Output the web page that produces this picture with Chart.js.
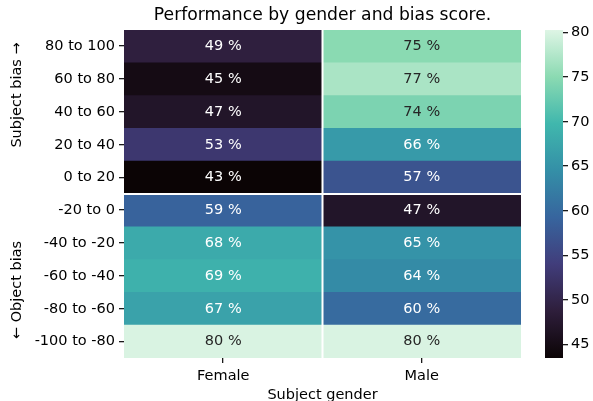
<!DOCTYPE html>
<html>
<head>
<meta charset="utf-8">
<script src="https://cdn.jsdelivr.net/npm/chart.js@4/dist/chart.umd.min.js"></script>
<style>
  html, body { margin: 0; padding: 0; background: #fff; }
  #wrap { position: relative; width: 593px; height: 401px; overflow: hidden; }
  #heat { position: absolute; left: 0; top: 0; }
  #cbar { position: absolute; left: 530px; top: 0; }
</style>
</head>
<body>
<div id="wrap">
  <canvas id="heat" width="540" height="404"></canvas>
  <canvas id="cbar" width="63" height="404"></canvas>
</div>
<script>
// data
const rowLabels = ['80 to 100', '60 to 80', '40 to 60', '20 to 40', '0 to 20',
                   '-20 to 0', '-40 to -20', '-60 to -40', '-80 to -60', '-100 to -80'];
const genders = ['Female', 'Male'];
const femaleScores = [49, 45, 47, 53, 43, 59, 68, 69, 67, 80];
const maleScores = [75, 77, 74, 66, 57, 47, 65, 64, 60, 80];
const colorMin = 43.5;
const colorMax = 80.3;
const colorTicks = [45, 50, 55, 60, 65, 70, 75, 80];

const FONT = 'DejaVu Sans';
const FS = 14.5;
const TICK_LEN = 5;
const TICK_COLOR = '#1a1a1a';
Chart.defaults.font.family = FONT;
Chart.defaults.color = '#111';

// mako colormap (approx)
const MAKO = [
    [0.000, [11, 4, 5]],
    [0.143, [46, 30, 59]],
    [0.286, [65, 61, 123]],
    [0.429, [55, 101, 158]],
    [0.571, [52, 143, 167]],
    [0.714, [64, 183, 173]],
    [0.857, [139, 218, 178]],
    [1.000, [222, 245, 229]]
];
function mako(t) {
    t = Math.max(0, Math.min(1, t));
    for (let i = 1; i < MAKO.length; i++) {
        if (t <= MAKO[i][0]) {
            const [t0, c0] = MAKO[i - 1], [t1, c1] = MAKO[i];
            const k = (t - t0) / (t1 - t0);
            return c0.map((c, j) => Math.round(c + (c1[j] - c) * k));
        }
    }
    return MAKO[MAKO.length - 1][1];
}
const rgb = c => `rgb(${c[0]},${c[1]},${c[2]})`;
const cellColor = v => mako((v - colorMin) / (colorMax - colorMin));
function luminance(c) {
    const l = c.map(x => { x /= 255; return x <= 0.03928 ? x / 12.92 : Math.pow((x + 0.055) / 1.055, 2.4); });
    return 0.2126 * l[0] + 0.7152 * l[1] + 0.0722 * l[2];
}

const series = [femaleScores, maleScores];

// invisible grid, keeps room for tick marks; marks drawn by plugin
const hiddenGrid = { drawOnChartArea: false, drawTicks: true, tickLength: TICK_LEN, color: 'rgba(0,0,0,0)' };

// annotations + separator lines
const heatExtras = {
    id: 'heatExtras',
    afterDatasetsDraw(chart) {
        const { ctx, chartArea: ca, scales: { x, y } } = chart;
        ctx.save();
        ctx.font = `${FS}px ${FONT}`;
        ctx.textAlign = 'center';
        ctx.textBaseline = 'middle';
        series.forEach((vals, di) => {
            const meta = chart.getDatasetMeta(di);
            meta.data.forEach((bar, i) => {
                const c = cellColor(vals[i]);
                ctx.fillStyle = luminance(c) > 0.408 ? '#262626' : '#ffffff';
                const p = bar.getCenterPoint();
                ctx.fillText(vals[i] + ' %', p.x, p.y);
            });
        });
        // white separators
        ctx.strokeStyle = '#ffffff';
        ctx.lineWidth = 2;
        const xm = x.getPixelForValue(1);
        const ym = (y.getPixelForValue(4) + y.getPixelForValue(5)) / 2;
        ctx.beginPath();
        ctx.moveTo(xm, ca.top); ctx.lineTo(xm, ca.bottom);
        ctx.moveTo(ca.left, ym); ctx.lineTo(ca.right, ym);
        ctx.stroke();
        ctx.restore();
    },
    afterDraw(chart) {
        const { ctx, chartArea: ca, scales: { x, y } } = chart;
        ctx.save();
        // tick marks
        ctx.fillStyle = TICK_COLOR;
        y.ticks.forEach((t, i) => {
            const py = Math.round(y.getPixelForTick(i));
            ctx.fillRect(Math.round(ca.left) - TICK_LEN, py - 1, TICK_LEN, 1.3);
        });
        x.ticks.forEach((t, i) => {
            const px = Math.round(x.getPixelForTick(i));
            ctx.fillRect(px - 1, Math.round(ca.bottom), 1.3, TICK_LEN);
        });
        // title
        ctx.fillStyle = '#000';
        ctx.textAlign = 'center';
        ctx.textBaseline = 'middle';
        ctx.font = `17.2px ${FONT}`;
        ctx.fillText('Performance by gender and bias score.', (ca.left + ca.right) / 2, 16);
        // y label, two halves
        ctx.font = `${FS}px ${FONT}`;
        const topMid = (y.getPixelForValue(0) + y.getPixelForValue(4)) / 2 - 17;
        const botMid = (y.getPixelForValue(5) + y.getPixelForValue(9)) / 2 + 14;
        [[topMid, 'Subject bias →'], [botMid, '← Object bias']].forEach(([py, txt]) => {
            ctx.save();
            ctx.translate(17, py);
            ctx.rotate(-Math.PI / 2);
            ctx.fillText(txt, 0, 0);
            ctx.restore();
        });
        ctx.restore();
    }
};

new Chart(document.getElementById('heat'), {
    type: 'bar',
    data: {
        labels: rowLabels,
        datasets: series.map((vals, di) => ({
            label: genders[di],
            data: vals.map(() => [di, di + 1]),
            backgroundColor: vals.map(v => rgb(cellColor(v))),
            borderWidth: 0,
            barPercentage: 1,
            categoryPercentage: 1,
            grouped: false
        }))
    },
    options: {
        indexAxis: 'y',
        responsive: false,
        animation: false,
        layout: { padding: { top: 30, right: 19, left: 0, bottom: 0 } },
        plugins: { legend: { display: false }, tooltip: { enabled: false } },
        scales: {
            x: {
                type: 'linear',
                min: 0, max: genders.length,
                afterBuildTicks: s => { s.ticks = genders.map((g, i) => ({ value: i + 0.5 })); },
                afterFit: s => { s.height = 46; },
                ticks: {
                    callback: v => genders[Math.floor(v)],
                    font: { size: FS }, color: '#000', padding: 5
                },
                grid: hiddenGrid,
                border: { display: false },
                title: { display: true, text: 'Subject gender', font: { size: FS }, color: '#000', padding: { top: 0, bottom: 0 } }
            },
            y: {
                type: 'category',
                afterFit: s => { s.width = 124; },
                ticks: { font: { size: FS }, color: '#000', padding: 4 },
                grid: hiddenGrid,
                border: { display: false }
            }
        }
    },
    plugins: [heatExtras]
});

// colorbar
const cbarTicks = {
    id: 'cbarTicks',
    afterDraw(chart) {
        const { ctx, chartArea: ca, scales: { y } } = chart;
        ctx.save();
        ctx.fillStyle = TICK_COLOR;
        y.ticks.forEach((t, i) => {
            const py = Math.round(y.getPixelForTick(i));
            ctx.fillRect(Math.round(ca.right), py - 1, TICK_LEN, 1.3);
        });
        ctx.restore();
    }
};

new Chart(document.getElementById('cbar'), {
    type: 'bar',
    data: {
        labels: ['scale'],
        datasets: [{
            data: [[colorMin, colorMax]],
            borderWidth: 0,
            barPercentage: 1,
            categoryPercentage: 1,
            backgroundColor: ctx => {
                const ca = ctx.chart.chartArea;
                if (!ca) return '#000';
                const g = ctx.chart.ctx.createLinearGradient(0, ca.bottom, 0, ca.top);
                MAKO.forEach(([t, c]) => g.addColorStop(t, rgb(c)));
                return g;
            }
        }]
    },
    options: {
        responsive: false,
        animation: false,
        layout: { padding: { top: 30, left: 15, right: 0, bottom: 46 } },
        plugins: { legend: { display: false }, tooltip: { enabled: false } },
        scales: {
            x: { display: false },
            y: {
                position: 'right',
                min: colorMin, max: colorMax,
                afterBuildTicks: s => { s.ticks = colorTicks.map(v => ({ value: v })); },
                afterFit: s => { s.width = 30; },
                ticks: { font: { size: FS }, color: '#000', padding: 3 },
                grid: hiddenGrid,
                border: { display: false }
            }
        }
    },
    plugins: [cbarTicks]
});
</script>
</body>
</html>
